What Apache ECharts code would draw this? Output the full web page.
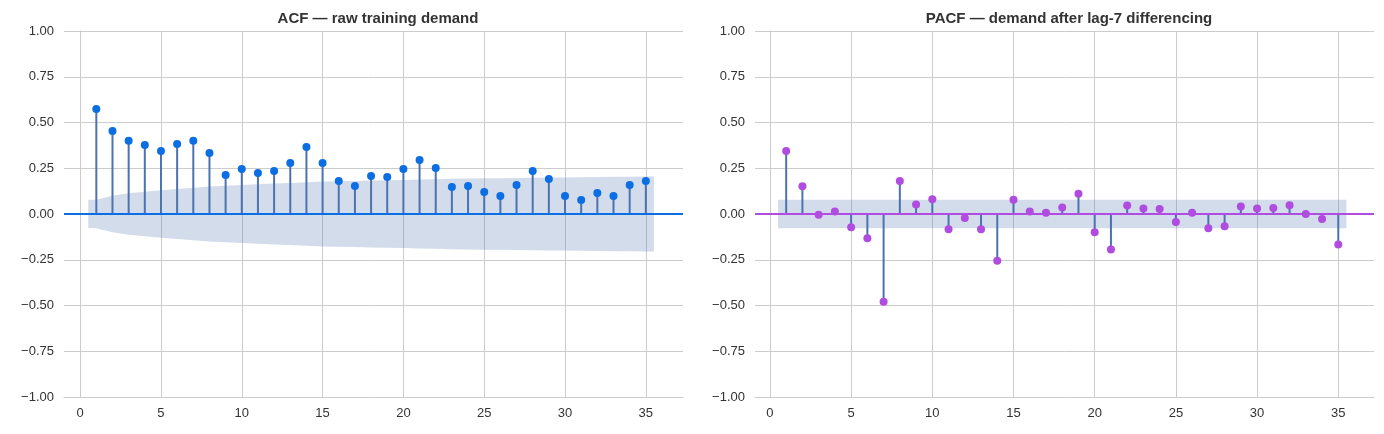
<!DOCTYPE html>
<html>
<head>
<meta charset="utf-8">
<script src="https://cdn.jsdelivr.net/npm/echarts@6/dist/echarts.min.js"></script>
<style>html,body{margin:0;padding:0;background:#fff}#c{width:1384px;height:434px}</style>
</head>
<body>
<div id="c"></div>
<script>
const lags = Array.from({length: 35}, (_, i) => i + 1);
const acfValues = [0.574, 0.454, 0.40, 0.377, 0.344, 0.383, 0.40, 0.333, 0.213, 0.246,
  0.224, 0.235, 0.279, 0.366, 0.279, 0.18, 0.153, 0.208, 0.202, 0.246,
  0.295, 0.251, 0.148, 0.153, 0.12, 0.098, 0.158, 0.235, 0.191, 0.098,
  0.077, 0.115, 0.098, 0.158, 0.18];
const acfBand = [0.078, 0.10, 0.113, 0.122, 0.13, 0.137, 0.144, 0.15, 0.154, 0.158,
  0.162, 0.166, 0.169, 0.173, 0.177, 0.179, 0.181, 0.183, 0.185, 0.186,
  0.188, 0.19, 0.192, 0.194, 0.195, 0.196, 0.197, 0.198, 0.199, 0.20,
  0.201, 0.202, 0.203, 0.204, 0.205];
const pacfValues = [0.344, 0.152, -0.004, 0.013, -0.072, -0.133, -0.48, 0.18, 0.052, 0.08,
  -0.083, -0.022, -0.083, -0.255, 0.078, 0.013, 0.007, 0.035, 0.111, -0.10,
  -0.194, 0.046, 0.03, 0.028, -0.044, 0.007, -0.078, -0.067, 0.041, 0.03,
  0.033, 0.048, 0.0, -0.028, -0.167];
const pacfBand = lags.map(() => 0.078);
const xTicks = [0, 5, 10, 15, 20, 25, 30, 35];

const chart = echarts.init(document.getElementById('c'));
const txt = '#333';
const gridCol = '#cccccc';
const font = 'Liberation Sans';

function bandSeries(idx, band) {
  // polygon from lag 0.5 to 35.5, widths taken from band array
  const pts = [[0.5, band[0]]].concat(lags.map((l, i) => [l, band[i]]), [[35.5, band[band.length - 1]]]);
  return {
    type: 'custom', xAxisIndex: idx, yAxisIndex: idx, z: 1, silent: true,
    data: [0],
    renderItem: (params, api) => {
      const upper = pts.map(p => api.coord([p[0], p[1]]));
      const lower = pts.slice().reverse().map(p => api.coord([p[0], -p[1]]));
      return {type: 'polygon', shape: {points: upper.concat(lower)}, style: {fill: 'rgba(76,114,176,0.25)'}};
    }
  };
}
function stemSeries(idx, vals) {
  return {
    type: 'custom', xAxisIndex: idx, yAxisIndex: idx, z: 2, silent: true,
    data: lags.map((l, i) => [l, vals[i]]),
    renderItem: (params, api) => {
      const a = api.coord([api.value(0), 0]);
      const b = api.coord([api.value(0), api.value(1)]);
      return {type: 'line', shape: {x1: a[0], y1: a[1], x2: b[0], y2: b[1]}, style: {stroke: '#4c72b0', lineWidth: 2}};
    }
  };
}
function dotSeries(idx, vals, color) {
  return {
    type: 'scatter', xAxisIndex: idx, yAxisIndex: idx, z: 4, symbolSize: 8,
    itemStyle: {color: color, opacity: 1},
    data: lags.map((l, i) => [l, vals[i]]),
    markLine: {
      silent: true, symbol: 'none', label: {show: false}, z: 3,
      lineStyle: {color: color, width: 2, type: 'solid'},
      data: [{yAxis: 0}]
    }
  };
}
function xAxis(idx, min, max) {
  return {
    type: 'value', gridIndex: idx, min: min, max: max,
    axisLine: {show: true, onZero: false, lineStyle: {color: gridCol}},
    axisTick: {show: false, customValues: xTicks},
    axisLabel: {customValues: xTicks, color: txt, fontSize: 13, margin: 10, fontFamily: font},
    splitLine: {show: true, lineStyle: {color: gridCol}}
  };
}
function yAxis(idx) {
  return {
    type: 'value', gridIndex: idx, min: -1, max: 1, interval: 0.25,
    axisLine: {show: true, lineStyle: {color: gridCol}},
    axisTick: {show: false},
    axisLabel: {color: txt, fontSize: 13, margin: 10, fontFamily: font,
      formatter: v => (v < 0 ? '\u2212' : '') + Math.abs(v).toFixed(2)},
    splitLine: {show: true, lineStyle: {color: gridCol}}
  };
}

chart.setOption({
  animation: false,
  title: [
    {text: 'ACF — raw training demand', left: 373, top: 6, textAlign: 'center',
      textStyle: {fontSize: 15, fontWeight: 'bold', color: txt, fontFamily: font}},
    {text: 'PACF — demand after lag-7 differencing', left: 1064, top: 6, textAlign: 'center',
      textStyle: {fontSize: 15, fontWeight: 'bold', color: txt, fontFamily: font}}
  ],
  grid: [
    {left: 64, width: 619, top: 31, height: 366},
    {left: 755, width: 619, top: 31, height: 366}
  ],
  xAxis: [xAxis(0, -1, 37.3), xAxis(1, -0.92, 37.2)],
  yAxis: [yAxis(0), yAxis(1)],
  series: [
    bandSeries(0, acfBand), stemSeries(0, acfValues), dotSeries(0, acfValues, '#0b6fe3'),
    bandSeries(1, pacfBand), stemSeries(1, pacfValues), dotSeries(1, pacfValues, '#b04de0')
  ]
});
</script>
</body>
</html>
